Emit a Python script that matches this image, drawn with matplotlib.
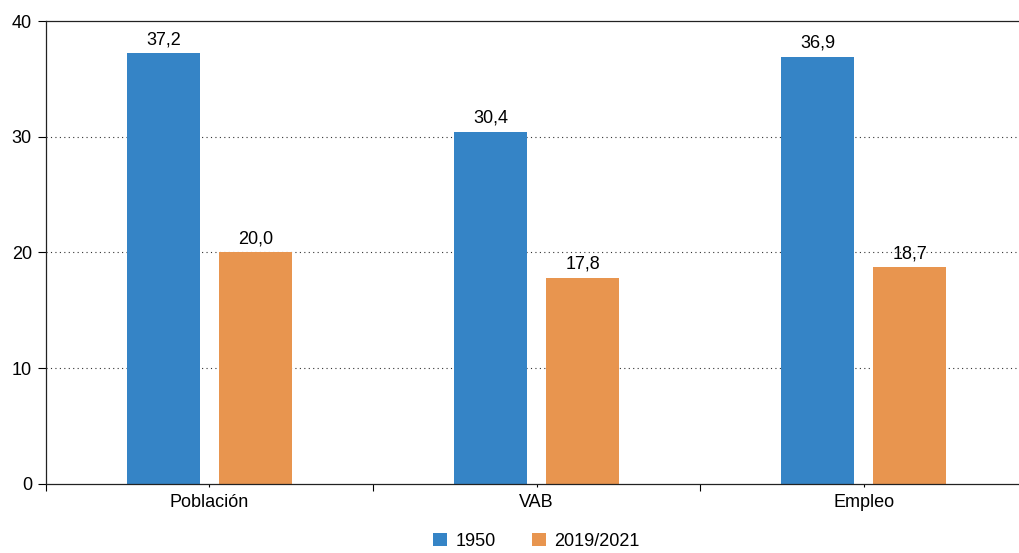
import numpy as np
import matplotlib.pyplot as plt
from matplotlib.ticker import FixedLocator

plt.rcParams['font.family'] = ['Liberation Sans', 'DejaVu Sans']

categorias = ['Población', 'VAB', 'Empleo']
v1950 = [37.2, 30.4, 36.9]
v2019 = [20.0, 17.8, 18.7]
series = ['1950', '2019/2021']

azul = '#3584c6'
naranja = '#e8954f'
fs = 13

fig = plt.figure(figsize=(10.19, 5.53), dpi=100)
ax = fig.add_axes([0.045, 0.125, 0.963, 0.837])

x = np.arange(len(categorias))
w = 0.223
off = 0.141
b1 = ax.bar(x - off, v1950, w, color=azul, label=series[0])
b2 = ax.bar(x + off, v2019, w, color=naranja, label=series[1])

for bars in (b1, b2):
    for r in bars:
        h = r.get_height()
        ax.text(r.get_x() + r.get_width() / 2, h + 0.45,
                f'{h:.1f}'.replace('.', ','), ha='center', va='bottom',
                fontsize=fs)

ax.set_xlim(-0.5, 2.5)
ax.set_ylim(0, 40)
ax.set_yticks([0, 10, 20, 30, 40])
ax.set_yticklabels(['0', '10', '20', '30', '40'], fontsize=fs)
for yv in (10, 20, 30):
    ax.axhline(yv, color='#333333', lw=0.8, ls=(0, (1, 3)), zorder=0)

ax.set_xticks(x)
ax.set_xticklabels(categorias, fontsize=fs)
ax.xaxis.set_minor_locator(FixedLocator([-0.5, 0.5, 1.5, 2.5]))
ax.tick_params(axis='x', which='major', length=2, width=0.8, pad=5)
ax.tick_params(axis='x', which='minor', length=5, width=0.8)
ax.tick_params(axis='y', length=6, width=0.8, pad=4)

ax.spines['right'].set_visible(False)
for s in ('left', 'bottom', 'top'):
    ax.spines[s].set_linewidth(0.9)
    ax.spines[s].set_color('#222222')

ax.legend(loc='upper center', bbox_to_anchor=(0.5, -0.07), ncol=2,
          frameon=False, fontsize=fs, handlelength=0.75, handleheight=0.75,
          columnspacing=2.0, handletextpad=0.5)

fig.savefig('out.png', dpi=100)
